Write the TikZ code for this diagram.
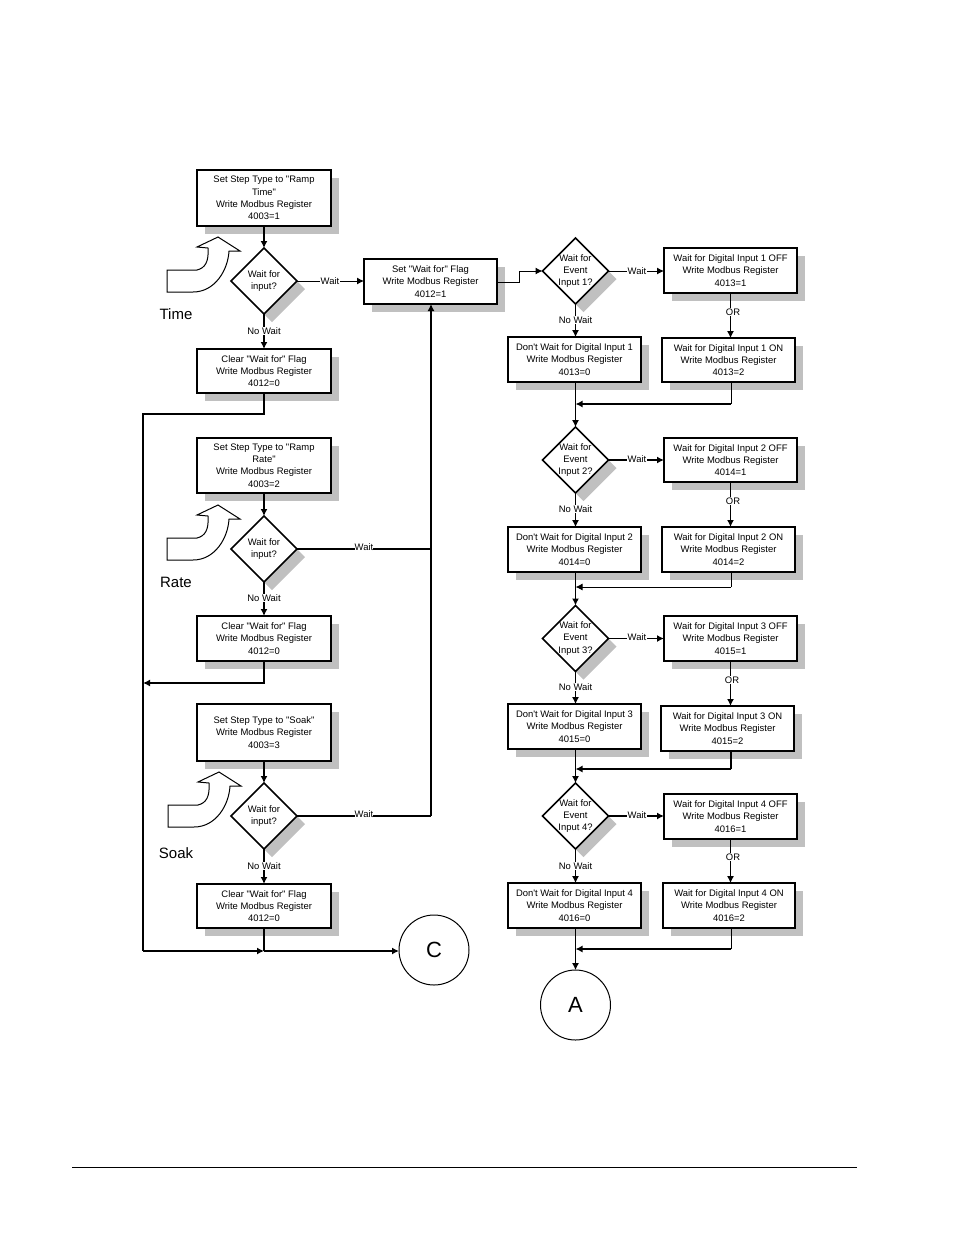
\documentclass[tikz,border=0pt]{standalone}
\usepackage{fontspec}
\setmainfont{Liberation Sans}[Ligatures=TeXOff]
\usetikzlibrary{shapes.geometric,shadows,arrows.meta}
\definecolor{shadowgray}{HTML}{C0C0C0}
\tikzset{
  x=1pt,y=-1pt,
  softshadow/.style={general shadow={shadow xshift=8pt,shadow yshift=-8pt,fill=shadowgray,draw=none}},
  box/.style={rectangle,draw,line width=1.9pt,fill=white,inner sep=0pt,outer sep=0pt,align=center,font=\fontsize{9.45}{12.2}\selectfont,softshadow},
  dmd/.style={diamond,draw,line width=1.5pt,fill=white,inner sep=0pt,outer sep=0pt,aspect=1,minimum width=66pt,minimum height=66pt,softshadow},
  dtext/.style={align=center,inner sep=0pt,font=\fontsize{9.45}{12.4}\selectfont},
  lbl/.style={fill=white,inner sep=1pt,font=\fontsize{9.45}{11}\selectfont},
  lbltight/.style={fill=white,inner sep=0pt,font=\fontsize{9.45}{11}\selectfont},
  big/.style={inner sep=0pt,font=\fontsize{15}{17}\selectfont},
  conn/.style={draw,line width=1.9pt},
  thinconn/.style={draw,line width=1pt},
  arr/.style={-{Latex[length=7pt,width=7pt]}},
  circ/.style={circle,draw,line width=1pt,fill=white,minimum size=70pt,inner sep=0pt,outer sep=0pt,font=\fontsize{22}{26}\selectfont},
  swoop/.style={draw,line width=1pt,fill=white,line join=miter}
}
\newcommand{\bx}[6]{\node[box,minimum width={#4-#2},minimum height={#5-#3}] (#1) at ({(#2+#4)/2},{(#3+#5)/2}) {#6};}
\newcommand{\dm}[4]{\node[dmd,label={[dtext]center:#4}] (#1) at (#2,#3) {};}
\newcommand{\swoopat}[2]{\begin{scope}[shift={(#1,#2)}]
  \path[swoop] (167,270) -- (197,270) .. controls (205,268) and (209,262) .. (208,248) -- (197,247) -- (218,237) -- (240,251) -- (229,251) .. controls (228,270) and (215,292) .. (193,292) -- (167,292) -- cycle;
\end{scope}}
\begin{document}
\begin{tikzpicture}
\useasboundingbox (0,0) rectangle (954,1235);
\fill[white] (0,0) rectangle (954,1235);
% left column
\bx{t1}{197}{170}{331}{226}{Set Step Type to "Ramp\\Time"\\Write Modbus Register\\4003=1}
\dm{td}{264}{281}{Wait for\\input?}
\bx{t2}{197}{349}{331}{393}{Clear "Wait for" Flag\\Write Modbus Register\\4012=0}
\bx{r1}{197}{438}{331}{493}{Set Step Type to "Ramp\\Rate"\\Write Modbus Register\\4003=2}
\dm{rd}{264}{549}{Wait for\\input?}
\bx{r2}{197}{616}{331}{661}{Clear "Wait for" Flag\\Write Modbus Register\\4012=0}
\bx{s1}{197}{704}{331}{761}{Set Step Type to "Soak"\\Write Modbus Register\\4003=3}
\dm{sd}{264}{816}{Wait for\\input?}
\bx{s2}{197}{884}{331}{928}{Clear "Wait for" Flag\\Write Modbus Register\\4012=0}
\bx{setf}{364}{259}{497}{304}{Set "Wait for" Flag\\Write Modbus Register\\4012=1}
\node[circ] (C) at (434,950) {C};
\node[circ] (A) at (575.5,1005) {A};
% swoops
\swoopat{0}{0}
\swoopat{0}{268}
\swoopat{1}{535}
\node[big] (timel) at (176,314) {Time};
\node[big] (ratel) at (176,582) {Rate};
\node[big] (soakl) at (176,853) {Soak};
% right column
\dm{d1}{575.5}{271}{Wait for\\Event\\Input 1?}
\bx{off1}{664}{248}{797}{293}{Wait for Digital Input 1 OFF\\Write Modbus Register\\4013=1}
\bx{on1}{662}{338}{795}{382}{Wait for Digital Input 1 ON\\Write Modbus Register\\4013=2}
\bx{no1}{508}{337}{641}{382}{Don't Wait for Digital Input 1\\Write Modbus Register\\4013=0}
\dm{d2}{575.5}{460}{Wait for\\Event\\Input 2?}
\bx{off2}{664}{438}{797}{482}{Wait for Digital Input 2 OFF\\Write Modbus Register\\4014=1}
\bx{on2}{662}{527}{795}{572}{Wait for Digital Input 2 ON\\Write Modbus Register\\4014=2}
\bx{no2}{508}{527}{641}{572}{Don't Wait for Digital Input 2\\Write Modbus Register\\4014=0}
\dm{d3}{575.5}{638.5}{Wait for\\Event\\Input 3?}
\bx{off3}{664}{616}{797}{661}{Wait for Digital Input 3 OFF\\Write Modbus Register\\4015=1}
\bx{on3}{661}{706}{794}{751}{Wait for Digital Input 3 ON\\Write Modbus Register\\4015=2}
\bx{no3}{508}{704}{641}{749}{Don't Wait for Digital Input 3\\Write Modbus Register\\4015=0}
\dm{d4}{575.5}{816}{Wait for\\Event\\Input 4?}
\bx{off4}{664}{794}{797}{839}{Wait for Digital Input 4 OFF\\Write Modbus Register\\4016=1}
\bx{on4}{663}{883}{795}{928}{Wait for Digital Input 4 ON\\Write Modbus Register\\4016=2}
\bx{no4}{508}{883}{641}{928}{Don't Wait for Digital Input 4\\Write Modbus Register\\4016=0}
% named free corners
\coordinate (m1) at (575.5,404);
\coordinate (m2) at (575.5,587);
\coordinate (m3) at (575.5,769);
\coordinate (m4) at (575.5,949);
\coordinate (e1) at (731,404);
\coordinate (e2) at (731,587);
\coordinate (e3) at (731,769);
\coordinate (e4) at (731,949);
\coordinate (tbus) at (143,414);
\coordinate (rbus) at (143,683);
\coordinate (sbus) at (143,951);
\coordinate (cj) at (264,951);
\coordinate (wbus) at (431,549);
\coordinate (sbusr) at (431,816);
\coordinate (j1) at (519,282);
\coordinate (j2) at (519,271);
% left connectors
\path[conn,arr] (t1.south) -- (td.north);
\path[thinconn,arr] (td.east) -- (setf.west |- td.east);
\node[lbl] (wl1) at (330,281) {Wait};
\path[conn,arr] (td.south) -- (t2.north);
\node[lbl] (nw0) at (264,331) {No Wait};
\path[conn] (t2.south) |- (tbus) -- (sbus);
\path[conn,arr] (sbus) -- (cj);
\path[conn,arr] (r1.south) -- (rd.north);
\path[conn,arr] (rd.south) -- (r2.north);
\node[lbl] (nw1) at (264,598) {No Wait};
\path[conn,arr] (r2.south) |- (rbus);
\path[conn,arr] (s1.south) -- (sd.north);
\path[conn,arr] (sd.south) -- (s2.north);
\node[lbl] (nw2) at (264,866) {No Wait};
\path[conn] (s2.south) -- (cj);
\path[conn,arr] (cj) -- (C.west |- cj);
\path[conn] (rd.east) -- (wbus);
\path[conn] (sd.east) -- (sbusr);
\path[conn,arr] (sbusr) -- (setf.south -| sbusr);
\node[lbltight] (wl2) at (364,547) {Wait};
\node[lbltight] (wl3) at (364,814) {Wait};
% set flag to first event
\path[thinconn,arr] (setf.east |- j1) -- (j1) -- (j2) -- (d1.west);
% right connectors
\foreach \i in {1,2,3,4} {
  \path[thinconn,arr] (d\i.south) -- (d\i.south |- no\i.north);
}
\path[thinconn] (m1 |- no1.south) -- (m1); \path[thinconn,arr] (m1) -- (d2.north);
\path[conn] (m2 |- no2.south) -- (m2); \path[conn,arr] (m2) -- (d3.north);
\path[thinconn] (m3 |- no3.south) -- (m3); \path[thinconn,arr] (m3) -- (d4.north);
\path[thinconn] (m4 |- no4.south) -- (m4); \path[thinconn,arr] (m4) -- (A.north);
\path[thinconn,arr] (d1.east) -- (off1.west |- d1.east);
\path[conn,arr] (d2.east) -- (off2.west |- d2.east);
\path[conn,arr] (d3.east) -- (off3.west |- d3.east);
\path[conn,arr] (d4.east) -- (off4.west |- d4.east);
\path[thinconn,arr] (off1.south) -- (off1.south |- on1.north);
\path[conn,arr] (off2.south) -- (off2.south |- on2.north);
\path[conn,arr] (off3.south) -- (off3.south |- on3.north);
\path[thinconn,arr] (off4.south) -- (off4.south |- on4.north);
\path[thinconn] (e1 |- on1.south) -- (e1);
\path[conn,arr] (e1) -- (m1);
\path[thinconn] (e2 |- on2.south) -- (e2);
\path[thinconn,arr] (e2) -- (m2);
\path[conn] (e3 |- on3.south) -- (e3);
\path[conn,arr] (e3) -- (m3);
\path[thinconn] (e4 |- on4.south) -- (e4);
\path[conn,arr] (e4) -- (m4);
% event labels
\node[lbl] (nwa) at (575.5,320) {No Wait};
\node[lbl] (nwb) at (575.5,509) {No Wait};
\node[lbl] (nwc) at (575.5,687) {No Wait};
\node[lbl] (nwd) at (575.5,866) {No Wait};
\node[lbl] (wa) at (637,271) {Wait};
\node[lbl] (wb) at (637,459) {Wait};
\node[lbl] (wc) at (637,637) {Wait};
\node[lbl] (wd) at (637,815) {Wait};
\node[lbl] (ora) at (733,312) {OR};
\node[lbl] (orb) at (733,501) {OR};
\node[lbl] (orc) at (732,680) {OR};
\node[lbl] (ord) at (733,857) {OR};
% page rule
\coordinate (ruleL) at (72,1167);
\coordinate (ruleR) at (857,1167);
\draw[line width=.8pt] (ruleL) -- (ruleR);
\end{tikzpicture}
\end{document}
